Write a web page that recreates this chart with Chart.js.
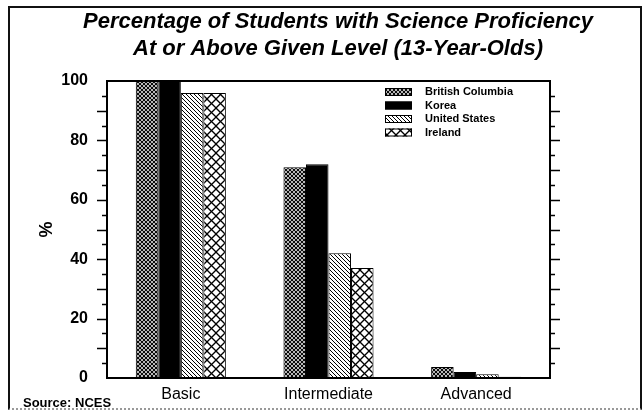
<!DOCTYPE html>
<html>
<head>
<meta charset="utf-8">
<script src="https://cdn.jsdelivr.net/npm/chart.js@4.4.0/dist/chart.umd.min.js"></script>
<style>
  body { margin: 0; background: #fff; }
  #wrap { position: relative; width: 643px; height: 411px; }
  #frame {
    position: absolute; left: 8px; top: 6px; width: 630px; height: 400px;
    border-left: 2px solid #111; border-top: 2px solid #111; border-right: 2px solid #111;
    border-bottom: 2px dotted #999;
  }
  canvas { position: absolute; left: 0; top: 0; }
</style>
</head>
<body>
<div id="wrap">
  <div id="frame"></div>
  <canvas id="profChart" width="643" height="411"></canvas>
</div>
<script>
// data
const levels = ['Basic', 'Intermediate', 'Advanced'];
const britishColumbia = [100, 71, 3.7];
const korea = [100, 72, 2];
const unitedStates = [96, 42, 1.3];
const ireland = [96, 37, 0.4];
const titleLines = ['Percentage of Students with Science Proficiency', 'At or Above Given Level (13-Year-Olds)'];
const sourceNote = 'Source: NCES';

// hatch patterns like the printed chart
function makePattern(size, drawFn) {
    const c = document.createElement('canvas');
    c.width = size;
    c.height = size;
    const g = c.getContext('2d');
    g.fillStyle = '#fff';
    g.fillRect(0, 0, size, size);
    g.strokeStyle = '#000';
    drawFn(g, size);
    return g.createPattern(c, 'repeat');
}

function diagLines(g, s, back, fwd, w) {
    g.lineWidth = w;
    for (let k = -1; k <= 1; k++) {
        if (back) {
            g.beginPath();
            g.moveTo(k * s, 0);
            g.lineTo(k * s + s, s);
            g.stroke();
        }
        if (fwd) {
            g.beginPath();
            g.moveTo(k * s, s);
            g.lineTo(k * s + s, 0);
            g.stroke();
        }
    }
}

const finePattern = makePattern(4, (g, s) => diagLines(g, s, true, true, 1.1));
const linePattern = makePattern(4, (g, s) => diagLines(g, s, true, false, 1));
const crossPattern = makePattern(9, (g, s) => diagLines(g, s, true, true, 1.3));

const frameTicks = {
    id: 'frameTicks',
    afterDraw(chart) {
        const ctx = chart.ctx;
        const a = chart.chartArea;
        const y = chart.scales.y;
        ctx.save();
        ctx.strokeStyle = '#000';
        ctx.lineWidth = 2;
        ctx.strokeRect(a.left, a.top, a.right - a.left, a.bottom - a.top);
        ctx.lineWidth = 1.5;
        for (let v = 5; v < 100; v += 5) {
            const py = Math.round(y.getPixelForValue(v)) + 0.5;
            const len = v % 10 === 0 ? 10 : 5;
            ctx.beginPath();
            ctx.moveTo(a.left - len, py);
            ctx.lineTo(a.left, py);
            ctx.moveTo(a.right, py);
            ctx.lineTo(a.right + len, py);
            ctx.stroke();
        }

        // legend in the upper right of the plot
        const ds = chart.data.datasets;
        ctx.font = 'bold 11px "Liberation Sans", Arial, sans-serif';
        ctx.textBaseline = 'middle';
        ctx.textAlign = 'left';
        ds.forEach((d, i) => {
            const cy = 92 + i * 13.5;
            ctx.fillStyle = d.backgroundColor;
            ctx.fillRect(385, cy - 4, 27, 8);
            ctx.lineWidth = 1;
            ctx.strokeStyle = '#000';
            ctx.strokeRect(385.5, cy - 3.5, 26, 7);
            ctx.fillStyle = '#000';
            ctx.fillText(d.label, 425, cy);
        });

        // title and source note
        ctx.font = 'italic bold 22px "Liberation Sans", Arial, sans-serif';
        ctx.textAlign = 'center';
        ctx.fillText(titleLines[0], 338, 22);
        ctx.fillText(titleLines[1], 338, 49);
        ctx.font = 'bold 13px "Liberation Sans", Arial, sans-serif';
        ctx.textAlign = 'left';
        ctx.fillText(sourceNote, 23, 403);
        ctx.restore();
    }
};

new Chart(document.getElementById('profChart'), {
    type: 'bar',
    data: {
        labels: levels,
        datasets: [
            { label: 'British Columbia', data: britishColumbia, backgroundColor: finePattern },
            { label: 'Korea', data: korea, backgroundColor: '#000' },
            { label: 'United States', data: unitedStates, backgroundColor: linePattern },
            { label: 'Ireland', data: ireland, backgroundColor: crossPattern }
        ].map(d => Object.assign(d, { borderColor: '#000', borderWidth: 1 }))
    },
    options: {
        responsive: false,
        animation: false,
        layout: { padding: { top: 81, right: 93, bottom: 0, left: 0 } },
        datasets: { bar: { categoryPercentage: 0.61, barPercentage: 1 } },
        plugins: {
            legend: { display: false },
            title: { display: false },
            tooltip: { enabled: false }
        },
        scales: {
            x: {
                grid: { display: false, drawTicks: false },
                border: { display: false },
                ticks: {
                    color: '#000',
                    padding: 7,
                    font: { family: '"Liberation Sans", Arial, sans-serif', size: 16 }
                },
                afterFit(scale) { scale.height = 33; }
            },
            y: {
                min: 0,
                max: 100,
                grid: { drawOnChartArea: false, drawTicks: false },
                border: { display: false },
                ticks: {
                    stepSize: 5,
                    autoSkip: false,
                    color: '#000',
                    padding: 19,
                    font: { family: '"Liberation Sans", Arial, sans-serif', size: 16, weight: 'bold' },
                    callback: v => (v % 20 === 0 ? v : '')
                },
                title: {
                    display: true,
                    text: '%',
                    color: '#000',
                    padding: { top: 36, bottom: 0 },
                    font: { family: '"Liberation Sans", Arial, sans-serif', size: 18, weight: 'bold' }
                },
                afterFit(scale) { scale.width = 107; }
            }
        }
    },
    plugins: [frameTicks]
});
</script>
</body>
</html>
